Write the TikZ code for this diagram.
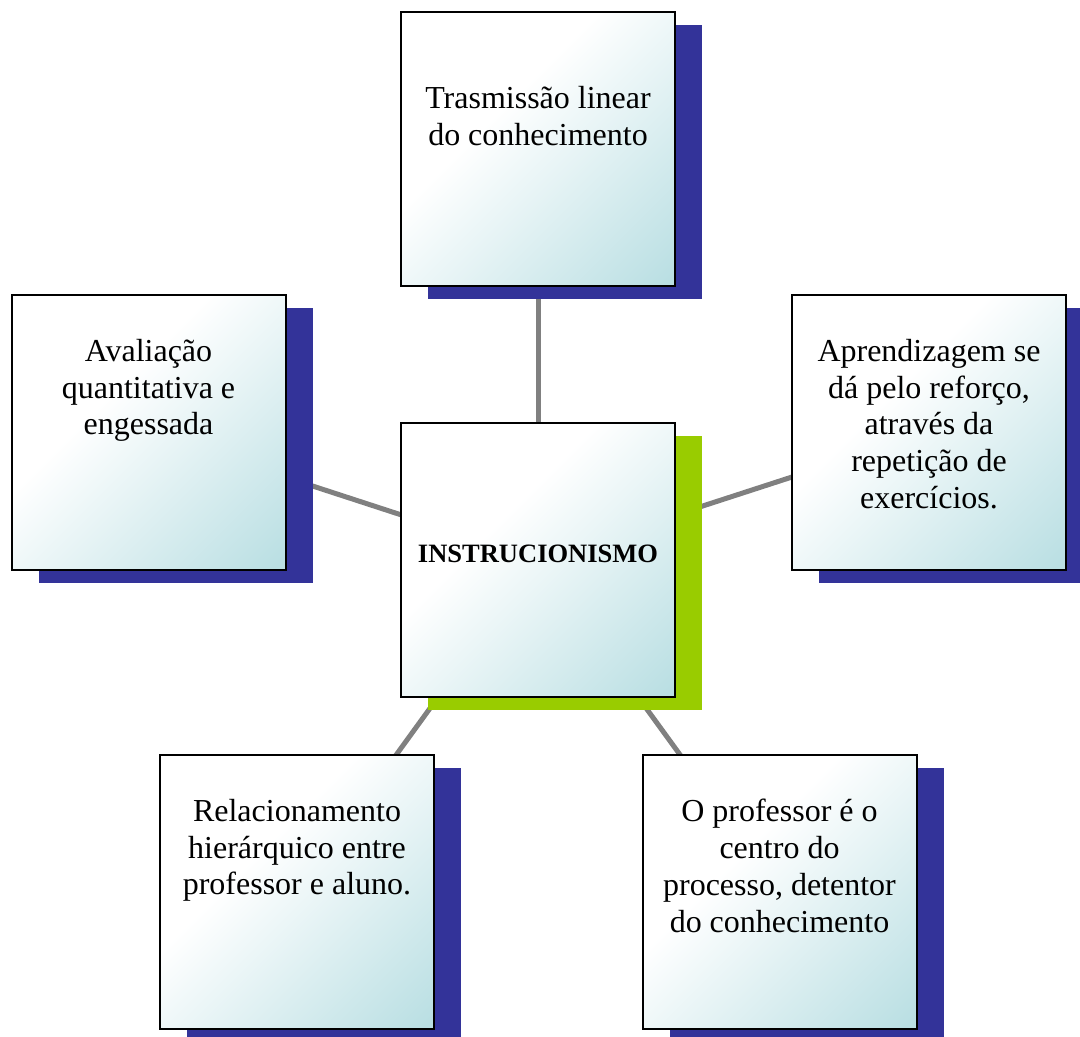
\documentclass[tikz,border=0pt]{standalone}
\usepackage{fontspec}
\setmainfont{Liberation Serif}
\usetikzlibrary{shadows,backgrounds}

\definecolor{boxblue}{RGB}{51,51,153}
\definecolor{boxgreen}{RGB}{153,204,0}
\definecolor{boxteal}{RGB}{186,223,227}
\definecolor{linkgray}{RGB}{128,128,128}

\pgfdeclarehorizontalshading{boxfade}{100bp}{color(0bp)=(white); color(40bp)=(white); color(84bp)=(boxteal); color(100bp)=(boxteal)}

\tikzset{
  card/.style={draw=black, line width=1pt, minimum size=137pt, inner sep=0pt,
    shading=boxfade, shading angle=-45,
    general shadow={fill=#1, shadow xshift=13.5pt, shadow yshift=-6.5pt}},
  card/.default=boxblue,
  cardtext/.style={anchor=north, align=center, inner sep=0pt,
    font=\fontsize{16}{18.4}\selectfont, execute at begin node=\strut},
  link/.style={draw=linkgray, line width=2.5pt}
}

\begin{document}
\begin{tikzpicture}[x=0.5pt, y=-0.5pt]
    \useasboundingbox (0,0) rectangle (1080,1037);

    % Cards
    \node[card=boxgreen] (inst) at (538,559.5) {};
    \node[card] (trans) at (538,149) {};
    \node[card] (aval) at (148.5,432.5) {};
    \node[card] (apren) at (929,432.5) {};
    \node[card] (rel) at (297,891.5) {};
    \node[card] (prof) at (779.5,891.5) {};

    % Texts of the cards
    \node[font=\bfseries\fontsize{13.25}{16}\selectfont, anchor=base] (inst-t) at ([yshift=-1.25pt]inst.center) {INSTRUCIONISMO};
    \node[cardtext] (trans-t) at ([yshift=-37.6pt]trans.north) {Trasmissão linear\\do conhecimento};
    \node[cardtext] (aval-t) at ([yshift=-22.1pt]aval.north) {Avaliação\\quantitativa e\\engessada};
    \node[cardtext] (apren-t) at ([yshift=-22.1pt]apren.north) {Aprendizagem se\\dá pelo reforço,\\através da\\repetição de\\exercícios.};
    \node[cardtext] (rel-t) at ([yshift=-22.6pt]rel.north) {Relacionamento\\hierárquico entre\\professor e aluno.};
    \node[cardtext] (prof-t) at ([yshift=-22.6pt]prof.north) {O professor é o\\centro do\\processo, detentor\\do conhecimento};

    % Links, behind the cards
    \begin{pgfonlayer}{background}
        \foreach \n in {trans,aval,apren,rel,prof} {
            \draw[link] (inst.center) -- (\n.center);
        }
    \end{pgfonlayer}
\end{tikzpicture}
\end{document}
